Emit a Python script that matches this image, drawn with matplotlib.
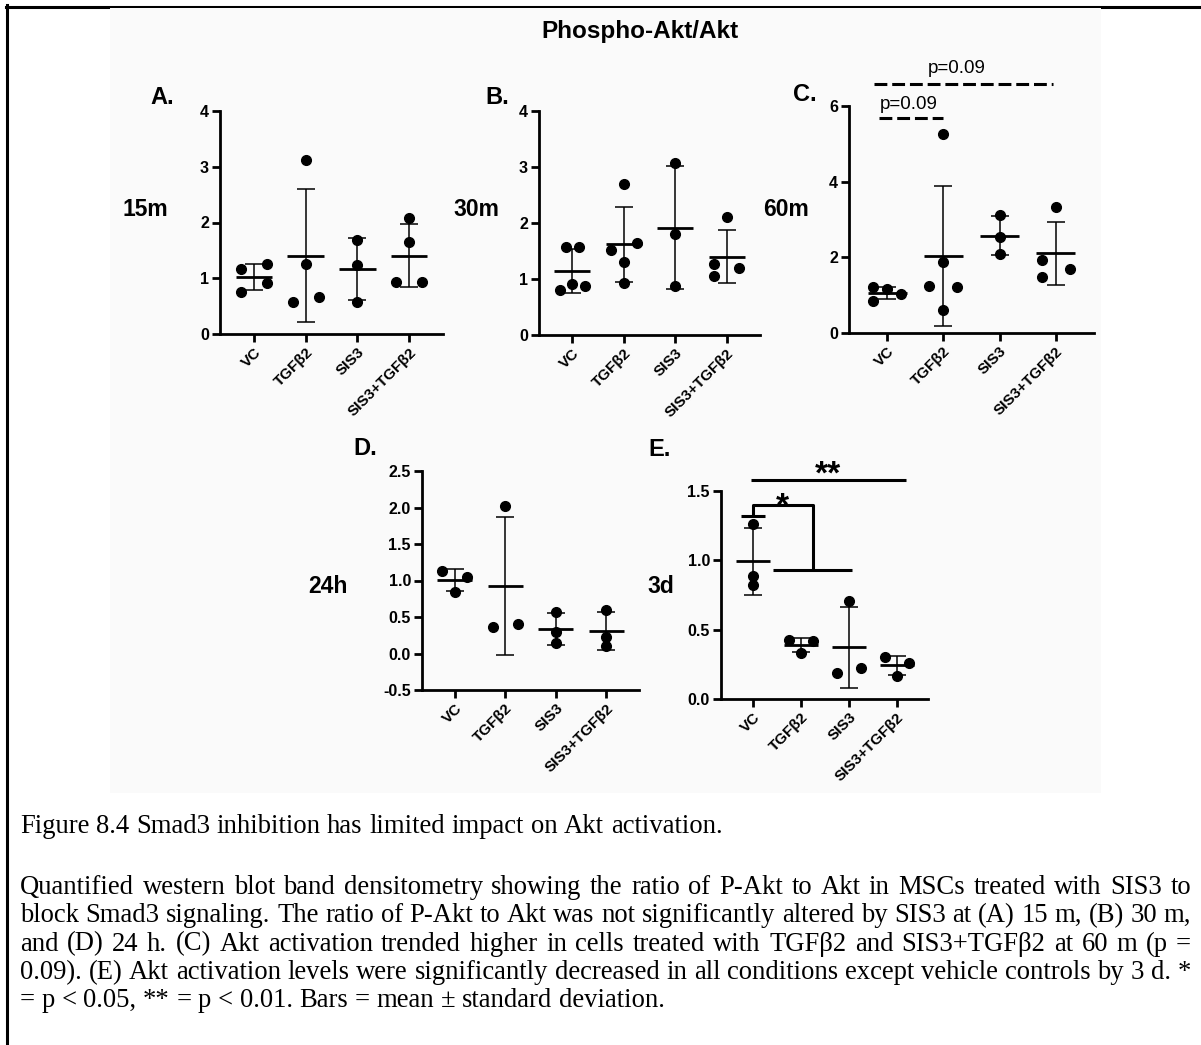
import numpy as np
import matplotlib
matplotlib.use("Agg")
import matplotlib.pyplot as plt
from matplotlib.lines import Line2D
from matplotlib.patches import Rectangle

plt.rcParams["font.family"] = ["Liberation Sans", "DejaVu Sans"]
plt.rcParams["axes.unicode_minus"] = False

groups = ["VC", "TGFβ2", "SIS3", "SIS3+TGFβ2"]

# P-Akt / Akt densitometry ratio, one list per treatment group
ratio_15m = [[1.17, 1.26, 0.75, 0.91],
             [3.13, 1.26, 0.58, 0.66],
             [1.68, 1.23, 0.57],
             [2.08, 1.65, 0.94, 0.94]]
ratio_30m = [[0.80, 0.91, 0.875, 1.58, 1.58],
             [2.70, 1.51, 1.65, 1.30, 0.93],
             [3.07, 1.81, 0.87],
             [2.10, 1.26, 1.05, 1.19]]
ratio_60m = [[1.21, 1.16, 1.03, 0.84],
             [5.25, 1.87, 1.25, 1.22, 0.62],
             [3.12, 2.53, 2.08],
             [3.33, 1.92, 1.69, 1.49]]
ratio_24h = [[1.13, 1.05, 0.84],
             [2.02, 0.36, 0.40],
             [0.57, 0.30, 0.14],
             [0.60, 0.23, 0.10]]
ratio_3d = [[1.265, 0.89, 0.82],
            [0.423, 0.418, 0.33],
            [0.707, 0.187, 0.223],
            [0.30, 0.257, 0.168]]

# sideways spread of dots that would otherwise overlap in a column
spread_15m = [[-0.25, 0.25, -0.25, 0.25], [0, 0, -0.25, 0.25], [0, 0, 0], [0, 0, -0.25, 0.25]]
spread_30m = [[-0.25, 0, 0.25, -0.125, 0.125], [0, -0.25, 0.25, 0, 0], [0, 0, 0], [0, -0.25, -0.25, 0.25]]
spread_60m = [[-0.25, 0, 0.25, -0.25], [0, 0, -0.25, 0.25, 0], [0, 0, 0], [0, -0.25, 0.25, -0.25]]
spread_24h = [[-0.25, 0.25, 0], [0, -0.25, 0.25], [0, 0, 0], [0, 0, 0]]
spread_3d = [[0, 0, 0], [-0.25, 0.25, 0], [0, -0.25, 0.25], [-0.25, 0.25, 0]]

caption_title = "Figure 8.4 Smad3 inhibition has limited impact on Akt activation."
caption_lines = [
    "Quantified western blot band densitometry showing the ratio of P-Akt to Akt in MSCs treated with SIS3 to",
    "block Smad3 signaling. The ratio of P-Akt to Akt was not significantly altered by SIS3 at (A) 15 m, (B) 30 m,",
    "and (D) 24 h. (C) Akt activation trended higher in cells treated with TGFβ2 and SIS3+TGFβ2 at 60 m (p =",
    "0.09). (E) Akt activation levels were significantly decreased in all conditions except vehicle controls by 3 d. *",
    "= p < 0.05, ** = p < 0.01. Bars = mean ± standard deviation.",
]

W, H = 1201, 1045
fig = plt.figure(figsize=(W / 100, H / 100), dpi=100)
fig.patch.set_facecolor("white")

SPINE = 2.0


def fx(x):
    return x / W


def fy(y):
    return 1 - y / H


# page frame and the light plate behind the graphs
fig.add_artist(Line2D([fx(7), fx(7)], [fy(5), fy(1045)], color="black", lw=2.2,
                      transform=fig.transFigure, zorder=-3))
fig.add_artist(Line2D([fx(6), fx(1201)], [fy(6.5), fy(6.5)], color="black", lw=2.2,
                      transform=fig.transFigure, zorder=-3))
fig.add_artist(Rectangle((fx(110), fy(793)), fx(1101) - fx(110), fy(7.5) - fy(793),
                         transform=fig.transFigure, facecolor="#fafafa",
                         edgecolor="none", zorder=-2))


def panel(box, xlim, ylim, yticks, yfmt, values, spread):
    x0, x1, ytop, ybot = box
    ax = fig.add_axes([fx(x0), fy(ybot), (x1 - x0) / W, (ybot - ytop) / H])
    ax.set_zorder(2)
    ax.patch.set_alpha(0)
    for s in ("top", "right"):
        ax.spines[s].set_visible(False)
    for s in ("left", "bottom"):
        ax.spines[s].set_linewidth(SPINE)
    ax.set_xlim(*xlim)
    ax.set_ylim(*ylim)
    ax.set_yticks(yticks)
    ax.set_yticklabels([yfmt.format(v) for v in yticks])
    ax.set_xticks(range(len(groups)))
    ax.set_xticklabels(groups, rotation=45, ha="right", va="top",
                       rotation_mode="anchor")
    ax.tick_params(direction="out", length=6, width=SPINE, pad=2)
    ax.tick_params(axis="x", labelsize=11)
    ax.tick_params(axis="y", labelsize=11.5)
    for lab in ax.get_xticklabels() + ax.get_yticklabels():
        lab.set_fontweight("bold")
    for i, (vals, dx) in enumerate(zip(values, spread)):
        vals = np.asarray(vals, dtype=float)
        m = vals.mean()
        sd = vals.std(ddof=1)
        ax.errorbar(i, m, yerr=sd, fmt="none", ecolor="black", elinewidth=1.1,
                    capsize=6.5, capthick=1.1, zorder=2, clip_on=False)
        ax.hlines(m, i - 0.35, i + 0.35, color="black", lw=2.0, zorder=2)
        ax.plot(i + np.asarray(dx), vals, "o", ms=7, color="black",
                zorder=3, clip_on=False)
    return ax


ax_a = panel((220, 443, 111, 334), (-0.65, 3.65), (0, 4), [0, 1, 2, 3, 4], "{:g}",
             ratio_15m, spread_15m)
ax_b = panel((539, 760, 111, 335), (-0.65, 3.65), (0, 4), [0, 1, 2, 3, 4], "{:g}",
             ratio_30m, spread_30m)
ax_c = panel((849, 1094, 106, 333), (-0.68, 3.68), (0, 6), [0, 2, 4, 6], "{:g}",
             ratio_60m, spread_60m)
ax_d = panel((422, 639, 471, 690), (-0.645, 3.645), (-0.5, 2.5),
             [-0.5, 0, 0.5, 1, 1.5, 2, 2.5], "{:.1f}", ratio_24h, spread_24h)
ax_e = panel((721, 928, 491, 699), (-0.66, 3.65), (0, 1.5), [0, 0.5, 1, 1.5], "{:.1f}",
             ratio_3d, spread_3d)

# trend brackets at 60 m
dash = (0, (4.2, 1.6))
ax_c.plot([-0.15, 1.0], [5.67, 5.67], color="black", lw=2.2, ls=dash, clip_on=False)
ax_c.plot([-0.23, 2.95], [6.57, 6.57], color="black", lw=2.2, ls=dash, clip_on=False)
ax_c.text(0.38, 6.05, "p=0.09", ha="center", va="center", fontsize=13.5)
ax_c.text(1.23, 7.0, "p=0.09", ha="center", va="center", fontsize=13.5)

# significance brackets at 3 d
bk = dict(color="black", lw=2.2, clip_on=False, solid_capstyle="butt")
ax_e.plot([-0.04, 3.19], [1.577, 1.577], **bk)
ax_e.plot([-0.25, 0.256], [1.319, 1.319], **bk)
ax_e.plot([0, 0, 1.25, 1.25], [1.319, 1.397, 1.397, 0.928], **bk)
ax_e.plot([0.43, 2.06], [0.928, 0.928], **bk)
ax_e.text(1.57, 1.555, "**", ha="center", va="baseline", fontsize=24, fontweight="bold")
ax_e.text(0.625, 1.325, "*", ha="center", va="baseline", fontsize=24, fontweight="bold")

# headings and row labels
fig.text(fx(640), fy(38), "Phospho-Akt/Akt", ha="center", va="baseline",
         fontsize=17.5, fontweight="bold")
for txt, x, y in [("A.", 150, 104), ("B.", 485, 104), ("C.", 793, 101),
                  ("D.", 353, 455), ("E.", 648, 456)]:
    fig.text(fx(x), fy(y), txt, ha="left", va="baseline", fontsize=17, fontweight="bold")
for txt, x, y in [("15m", 123, 216), ("30m", 453, 216), ("60m", 763, 216),
                  ("24h", 308, 593), ("3d", 647, 593)]:
    fig.text(fx(x), fy(y), txt, ha="left", va="baseline", fontsize=16.5, fontweight="bold")

# caption, justified between the margins
CAP_FS = 19.2
SERIF = ["Liberation Serif", "DejaVu Serif"]
cap_x0, cap_x1 = 20, 1191
renderer = fig.canvas.get_renderer()
space_px = 0.25 * CAP_FS * 100 / 72


def caption_line(line, y, justify):
    words = line.split(" ")
    arts = [fig.text(0, fy(y), w, fontsize=CAP_FS, family=SERIF, ha="left",
                     va="baseline") for w in words]
    widths = [a.get_window_extent(renderer).width for a in arts]
    gap = space_px
    if justify and len(words) > 1:
        gap = (cap_x1 - cap_x0 - sum(widths)) / (len(words) - 1)
    x = cap_x0
    for a, w in zip(arts, widths):
        a.set_x(fx(x))
        x += w + gap


caption_line(caption_title, 833, False)
base = 894
for k, line in enumerate(caption_lines):
    caption_line(line, base + 28.3 * k, k < len(caption_lines) - 1)

fig.savefig("out.png", dpi=100)
